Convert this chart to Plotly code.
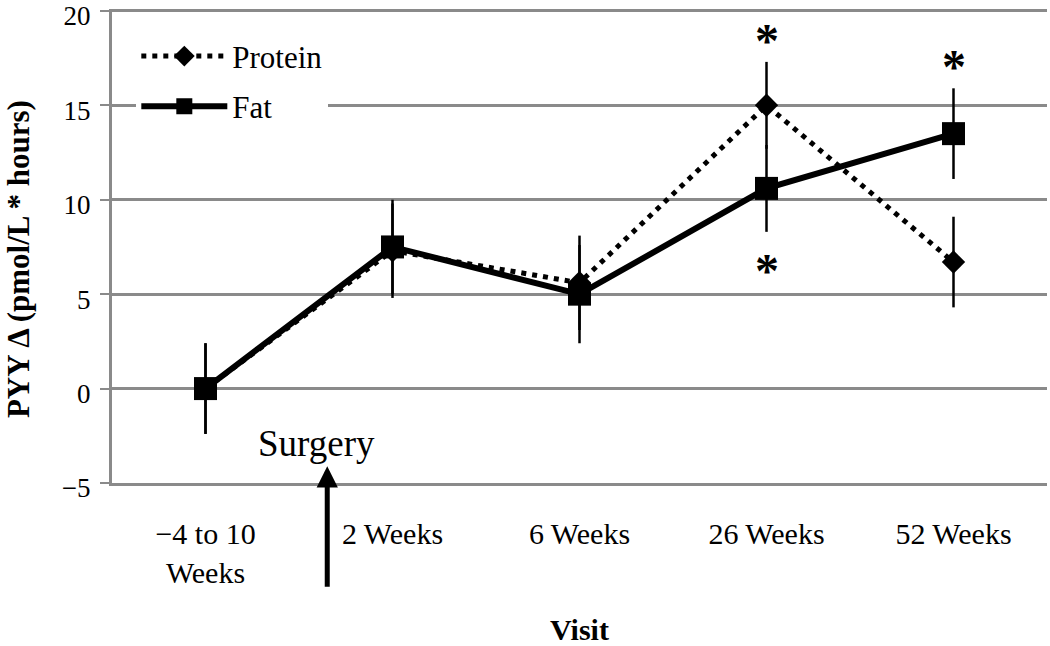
import plotly.graph_objects as go

visits = ["−4 to 10<br>Weeks", "2 Weeks", "6 Weeks", "26 Weeks", "52 Weeks"]
protein = [0.0, 7.3, 5.6, 15.0, 6.7]
protein_err = [2.4, 2.5, 2.5, 2.3, 2.4]
fat = [0.0, 7.5, 5.0, 10.6, 13.5]
fat_err = [2.4, 2.5, 2.6, 2.3, 2.4]

# significance markers: (visit index, series, side)
sig_marks = [(3, "protein", "above"), (3, "fat", "below"), (4, "fat", "above")]

y_ticks = [-5, 0, 5, 10, 15, 20]

SERIF = "Liberation Serif"
GRID = "#8a8a8a"

fig = go.Figure()
fig.add_trace(go.Scatter(
    x=visits, y=protein, name="Protein", mode="lines+markers",
    line=dict(color="black", width=5, dash="5px,6px"),
    marker=dict(symbol="diamond", size=18, color="black"),
    error_y=dict(type="data", array=protein_err, color="black", thickness=2.5, width=0),
    legendgroup="p",
))
fig.add_trace(go.Scatter(
    x=visits, y=fat, name="Fat", mode="lines+markers",
    line=dict(color="black", width=6),
    marker=dict(symbol="square", size=23, color="black"),
    error_y=dict(type="data", array=fat_err, color="black", thickness=2.5, width=0),
    legendgroup="f",
))

series = {"protein": (protein, protein_err), "fat": (fat, fat_err)}
for idx, s, side in sig_marks:
    vals, errs = series[s]
    if side == "above":
        yv = vals[idx] + errs[idx] + 1.3
    else:
        yv = vals[idx] - errs[idx] - 1.9
    fig.add_annotation(x=idx, y=yv, xref="x", yref="y", text="<b>*</b>",
                       showarrow=False, font=dict(family=SERIF, size=48, color="black"),
                       yshift=-3)

fig.add_annotation(x=0.592, y=-2.9, xref="x", yref="y", text="Surgery",
                   showarrow=False, font=dict(family=SERIF, size=37, color="black"))
fig.add_annotation(x=0.651, y=0.0355, xref="x", yref="paper", text="",
                   showarrow=True, arrowhead=2, arrowsize=0.85, arrowwidth=5,
                   arrowcolor="black", ax=0, ay=122, standoff=0)

# y-axis title (placed as rotated text, slightly below plot centre as in the original)
fig.add_annotation(x=-0.1005, y=0.4725, xref="paper", yref="paper",
                   text="<b>PYY Δ (pmol/L * hours)</b>", textangle=-90,
                   showarrow=False, xanchor="center", yanchor="middle",
                   font=dict(family=SERIF, size=31, color="black"))

fig.update_layout(
    width=1050, height=646,
    margin=dict(l=112, r=3, t=9, b=163),
    paper_bgcolor="white", plot_bgcolor="white",
    font=dict(family=SERIF, color="black"),
    showlegend=True,
    legend=dict(x=0.026, y=0.957, xanchor="left", yanchor="top",
                bgcolor="white", font=dict(family=SERIF, size=31, color="black"),
                itemwidth=86, tracegroupgap=7),
    xaxis=dict(
        type="category", range=[-0.5, 4.5], automargin=False,
        showgrid=False, showline=True, linecolor=GRID, linewidth=3,
        ticks="", tickfont=dict(family=SERIF, size=30, color="black"),
        ticklabelstandoff=22,
        title=dict(text="<b>Visit</b>", font=dict(family=SERIF, size=30, color="black"), standoff=32),
    ),
    yaxis=dict(
        range=[-5, 20.1], tickvals=y_ticks, automargin=False,
        showgrid=True, gridcolor=GRID, gridwidth=2.5,
        showline=True, linecolor=GRID, linewidth=3,
        ticks="outside", ticklen=9, tickwidth=2, tickcolor=GRID,
        tickfont=dict(family=SERIF, size=27, color="black"),
        ticklabelstandoff=4, ticklabeloverflow="allow", ticklabelshift=5,
        zeroline=False,
    ),
)

fig.write_html("out.html", config={"displayModeBar": False},
               post_script="document.body.style.margin='0';document.body.style.padding='0';")
